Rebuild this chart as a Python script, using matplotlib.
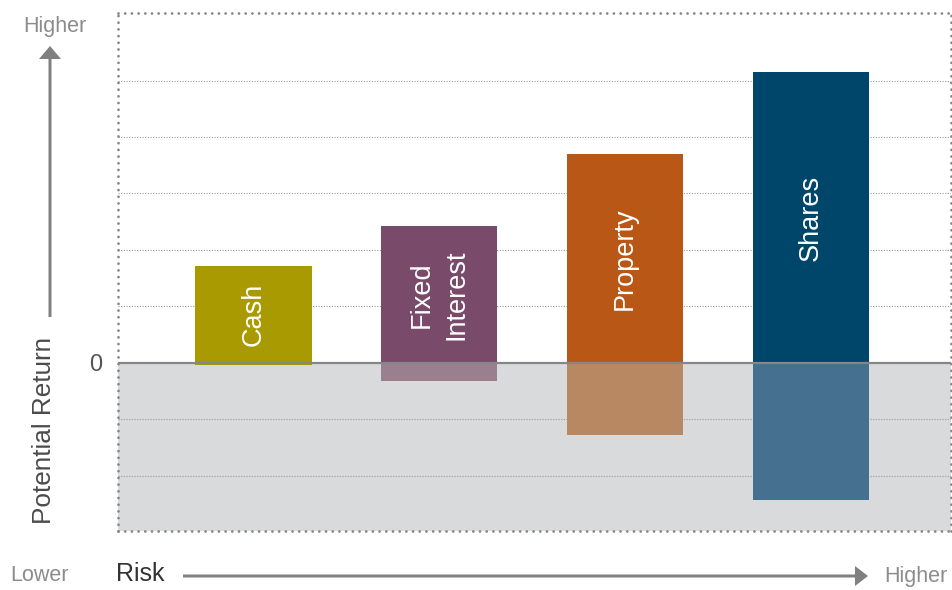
import matplotlib
matplotlib.use("Agg")
import matplotlib.pyplot as plt
from matplotlib.patches import FancyArrow
from matplotlib.transforms import IdentityTransform

plt.rcParams['font.family'] = ['Liberation Sans', 'DejaVu Sans']

# ---- data ----
categories = ["Cash", "Fixed\nInterest", "Property", "Shares"]
upside = [1.71, 2.42, 3.70, 5.15]
downside = [-0.04, -0.33, -1.29, -2.43]
pos_colors = ["#a89a00", "#7a4a6b", "#b95816", "#00466a"]
neg_colors = ["#a89a00", "#9a808f", "#b88862", "#46708f"]
grid_levels = [-2, -1, 1, 2, 3, 4, 5]
zero_tick = [0]
zero_label = ["0"]

W, H = 952, 590
fig = plt.figure(figsize=(W / 100, H / 100), dpi=100)
ax_left, ax_right, ax_top, ax_bottom = 118, 950.5, 13.3, 531
ax = fig.add_axes([ax_left / W, 1 - ax_bottom / H,
                   (ax_right - ax_left) / W, (ax_bottom - ax_top) / H])

x = list(range(len(categories)))
ymin, ymax = -2.984, 6.195
spacing = 185.8
ax.set_xlim((ax_left - 253.5) / spacing, (ax_right - 253.5) / spacing)
ax.set_ylim(ymin, ymax)

# negative region background
ax.axhspan(ymin, 0, color="#d9dadc", zorder=0, lw=0)

# gridlines
for g in grid_levels:
    ax.axhline(g, color="#9a9a9a", lw=0.8, linestyle=(0, (1, 1.4)), zorder=1)

width = 0.625
ax.bar(x, upside, width=width, color=pos_colors, zorder=2, lw=0)
ax.bar(x, downside, width=width, color=neg_colors, zorder=2, lw=0)

ax.axhline(0, color="#868686", lw=1.6, zorder=3)

for xi, top, lab in zip(x, upside, categories):
    ax.text(xi, top / 2, lab, rotation=90, ha="center", va="center",
            ma="center", color="white", fontsize=19.5, linespacing=1.42, zorder=4)

ax.set_xticks([])
ax.set_yticks(zero_tick)
ax.set_yticklabels(zero_label, fontsize=17, color="#555555")
ax.tick_params(axis="y", length=0, pad=11)

for s in ax.spines.values():
    s.set_linestyle((0, (0.01, 2.4)))
    s.set_capstyle("round")
    s.set_color("#858585")
    s.set_linewidth(2.0)
    s.set_zorder(5)

def fy(y):
    return 1 - y / H

def fx(xp):
    return xp / W

txt_gray = "#8c8c8c"
fig.text(fx(55), fy(32), "Higher", ha="center", va="baseline", fontsize=15.5, color=txt_gray)
fig.text(fx(10), fy(581), "Lower", ha="left", va="baseline", fontsize=15.5, color=txt_gray)
fig.text(fx(116), fy(581), "Risk", ha="left", va="baseline", fontsize=18, color="#333333")
fig.text(fx(948), fy(582), "Higher", ha="right", va="baseline", fontsize=15.5, color=txt_gray)
fig.text(fx(44), fy(430), "Potential Return", rotation=90, ha="center", va="center",
         fontsize=18.8, color="#4a4a4a")

arrow_col = "#808080"
# vertical arrow (pixel coords, origin bottom-left)
fig.patches.append(FancyArrow(50, H - 317, 0, 317 - 46, width=3, head_width=22,
                              head_length=13, length_includes_head=True,
                              color=arrow_col, transform=IdentityTransform(),
                              figure=fig, lw=0))
fig.patches.append(FancyArrow(183, H - 576, 868 - 183, 0, width=3, head_width=20,
                              head_length=13, length_includes_head=True,
                              color=arrow_col, transform=IdentityTransform(),
                              figure=fig, lw=0))

fig.savefig("out.png", dpi=100)
